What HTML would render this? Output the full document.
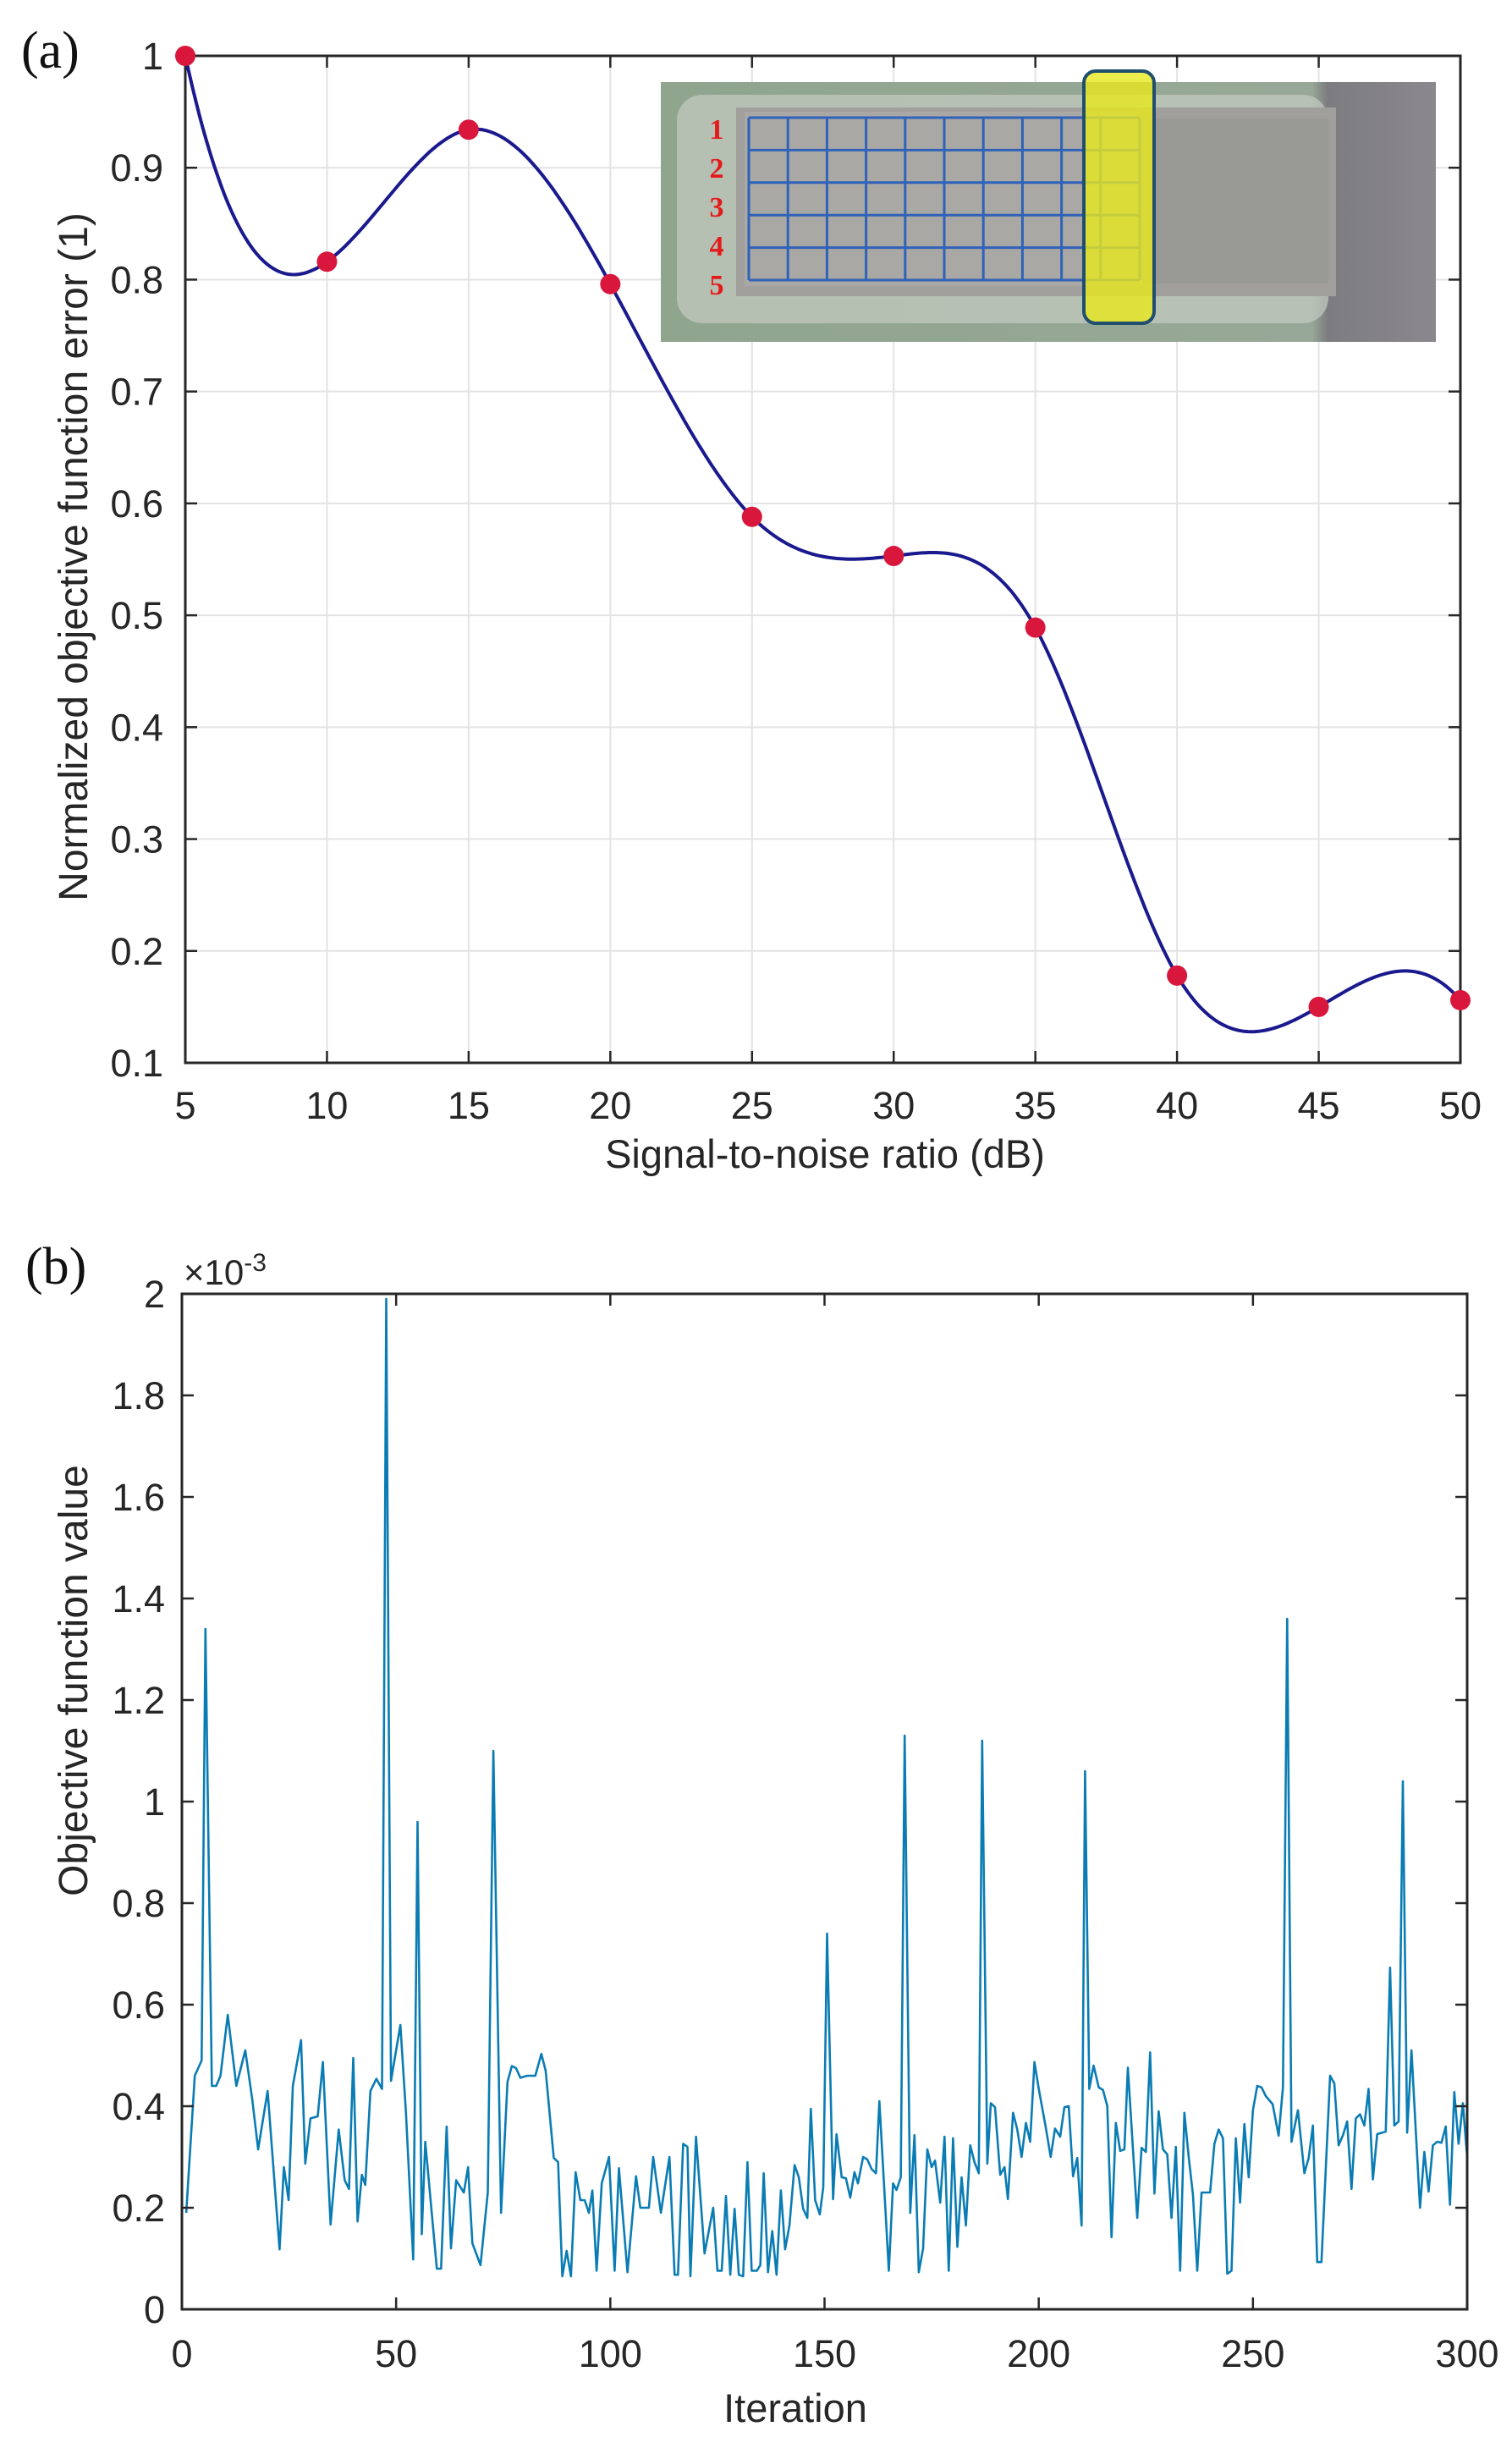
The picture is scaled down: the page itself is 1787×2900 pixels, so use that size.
<!DOCTYPE html>
<html><head><meta charset="utf-8"><style>
html,body{margin:0;padding:0;background:#fff;}
svg{display:block;}
text{font-family:"Liberation Sans",Arial,sans-serif;fill:#262626;}
</style></head>
<body>
<svg id="fig" width="1787" height="2900" viewBox="0 0 1787 2900" xmlns="http://www.w3.org/2000/svg">
<defs>
<linearGradient id="pcb" x1="0" y1="0" x2="1" y2="0">
<stop offset="0" stop-color="#8fa58e"/><stop offset="0.84" stop-color="#98a898"/><stop offset="0.86" stop-color="#7d7c80"/><stop offset="1" stop-color="#8a888c"/>
</linearGradient>
</defs>
<g id="chartA"></g>
<g id="chartB"></g>
</svg>
<script>
// ---------- Chart (a) data ----------
const snrValues = [5,10,15,20,25,30,35,40,45,50];
const errorValues = [1.0,0.816,0.934,0.796,0.588,0.553,0.489,0.178,0.150,0.156];
const aXTicks = [5,10,15,20,25,30,35,40,45,50];
const aYTicks = [0.1,0.2,0.3,0.4,0.5,0.6,0.7,0.8,0.9,1];
const aYTickLabels = ["0.1","0.2","0.3","0.4","0.5","0.6","0.7","0.8","0.9","1"];

// ---------- Chart (b) data ----------
const iterKnots = [1,3,4.6,5.5,7,8,9,10.7,12.7,14.8,16.4,17.8,20,22.8,23.8,24.9,25.9,27.8,28.8,30,31.7,32.9,34.7,36.6,38,39,40,41,42,42.8,44,45.4,46.7,47.7,48.8,51,52.3,54,55,56,56.8,59.5,60.5,61.8,62.8,64,65.8,66.8,67.8,69.7,71.4,72.7,74.5,76,77,78,79,80.6,82.5,83.9,84.9,86.8,87.8,88.8,89.8,90.8,91.9,93,94,95,95.8,96.8,98,99.7,101,102,104,106,107,109,110,111.8,113.8,115,115.8,117,118,118.7,120,122,124,125,126,127,128,129,130,131,132,133,134.2,135,135.8,136.8,137.8,138.8,139.8,140.8,141.8,143,144,145,146,146.8,147.8,148.9,149.7,150.6,152,152.8,154,155,156,157,157.8,159,160,161,162,162.8,165,166,166.8,167.8,168.7,170,171,172,173,174,175,175.8,177,178,179,180,181,182,183,184,185,186,186.8,188,188.8,189.8,191,192,192.8,194,195,196,197,198,199,200,201.6,202.8,203.8,205,206,207,208,209,210,210.8,211.8,212.8,214,215,216,217,218,219,220,220.8,223,224,225,226,227,228,229,230,231,232,233,234,235,236,237,238,240,241,242,243,244,245,246,247,248,249,250,251,252,253,254.6,256,257,258,259,260.5,262,263,264,265,266,268,269,270,271,272,273,274,275,276,277,278,279,281,282,283,284,285,286,287,288,289,290,291,292,293,294,295,296,297,298,299,300];
const objValues = [0.19,0.46,0.49,1.34,0.44,0.44,0.46,0.58,0.44,0.51,0.415,0.315,0.43,0.118,0.28,0.215,0.44,0.53,0.287,0.376,0.38,0.487,0.167,0.354,0.254,0.237,0.495,0.173,0.265,0.245,0.43,0.454,0.434,1.99,0.45,0.56,0.387,0.098,0.96,0.148,0.33,0.08,0.08,0.36,0.12,0.254,0.23,0.28,0.13,0.087,0.23,1.10,0.19,0.448,0.479,0.475,0.456,0.46,0.46,0.503,0.47,0.298,0.29,0.065,0.115,0.065,0.27,0.215,0.215,0.19,0.234,0.076,0.248,0.3,0.076,0.278,0.073,0.262,0.2,0.2,0.3,0.19,0.3,0.068,0.068,0.326,0.32,0.065,0.34,0.11,0.2,0.076,0.076,0.223,0.068,0.198,0.068,0.065,0.29,0.076,0.076,0.087,0.268,0.073,0.154,0.068,0.234,0.118,0.165,0.284,0.26,0.198,0.18,0.395,0.215,0.187,0.24,0.74,0.217,0.345,0.26,0.258,0.22,0.27,0.248,0.3,0.295,0.276,0.268,0.41,0.076,0.248,0.235,0.26,1.13,0.19,0.343,0.073,0.12,0.315,0.28,0.293,0.21,0.34,0.076,0.337,0.123,0.26,0.165,0.323,0.29,0.268,1.12,0.287,0.406,0.398,0.265,0.28,0.217,0.387,0.354,0.3,0.367,0.33,0.487,0.434,0.36,0.3,0.356,0.34,0.398,0.4,0.262,0.298,0.165,1.06,0.434,0.48,0.437,0.432,0.4,0.142,0.367,0.312,0.315,0.476,0.18,0.318,0.31,0.506,0.228,0.39,0.315,0.305,0.18,0.32,0.076,0.387,0.3,0.226,0.076,0.23,0.23,0.326,0.354,0.337,0.07,0.076,0.337,0.21,0.365,0.26,0.392,0.44,0.437,0.42,0.404,0.342,0.437,1.36,0.33,0.392,0.268,0.298,0.362,0.093,0.093,0.46,0.445,0.323,0.343,0.37,0.237,0.376,0.384,0.362,0.434,0.256,0.345,0.35,0.673,0.362,0.37,1.04,0.348,0.51,0.354,0.2,0.31,0.232,0.323,0.33,0.328,0.36,0.206,0.428,0.326,0.406,0.3];
const bXTicks = [0,50,100,150,200,250,300];
const bYTicks = [0,0.2,0.4,0.6,0.8,1,1.2,1.4,1.6,1.8,2];
const bYTickLabels = ["0","0.2","0.4","0.6","0.8","1","1.2","1.4","1.6","1.8","2"];

const NS = "http://www.w3.org/2000/svg";
function mk(parent, tag, attrs, txt){
  const e = document.createElementNS(NS, tag);
  for (const k in attrs) e.setAttribute(k, attrs[k]);
  if (txt !== undefined) e.textContent = txt;
  parent.appendChild(e);
  return e;
}

// not-a-knot cubic spline second derivatives
function splineM(xs, ys){
  const n = xs.length, h=[];
  for(let i=0;i<n-1;i++) h.push(xs[i+1]-xs[i]);
  const A = [], rhs = [];
  for(let i=0;i<n;i++){ A.push(new Array(n).fill(0)); rhs.push(0); }
  // not-a-knot start
  A[0][0] = h[1]; A[0][1] = -(h[0]+h[1]); A[0][2] = h[0];
  for(let i=1;i<n-1;i++){
    A[i][i-1]=h[i-1]; A[i][i]=2*(h[i-1]+h[i]); A[i][i+1]=h[i];
    rhs[i]=6*((ys[i+1]-ys[i])/h[i]-(ys[i]-ys[i-1])/h[i-1]);
  }
  A[n-1][n-3]=h[n-2]; A[n-1][n-2]=-(h[n-3]+h[n-2]); A[n-1][n-1]=h[n-3];
  // gaussian elimination with pivoting
  for(let c=0;c<n;c++){
    let p=c; for(let r=c+1;r<n;r++) if(Math.abs(A[r][c])>Math.abs(A[p][c])) p=r;
    [A[c],A[p]]=[A[p],A[c]]; [rhs[c],rhs[p]]=[rhs[p],rhs[c]];
    for(let r=c+1;r<n;r++){
      const f=A[r][c]/A[c][c];
      for(let k=c;k<n;k++) A[r][k]-=f*A[c][k];
      rhs[r]-=f*rhs[c];
    }
  }
  const M=new Array(n).fill(0);
  for(let r=n-1;r>=0;r--){
    let s=rhs[r]; for(let k=r+1;k<n;k++) s-=A[r][k]*M[k];
    M[r]=s/A[r][r];
  }
  return {M,h};
}

// ---------- Chart A ----------
(function(){
  const g = document.getElementById('chartA');
  const L=219, R=1726, T=66, B=1256;
  const xS = v => L + (v-5)/45*(R-L);
  const yS = v => B - (v-0.1)/0.9*(B-T);

  aXTicks.forEach(v=>{
    const l = mk(g,'line',{x1:xS(v),x2:xS(v),y1:T,y2:B,stroke:'#e3e3e3','stroke-width':2});
    
    
  });
  aYTicks.forEach(v=>{
    const l = mk(g,'line',{x1:L,x2:R,y1:yS(v),y2:yS(v),stroke:'#e3e3e3','stroke-width':2});
    
    
  });

  // inset photo
  const ins = mk(g,'g',{});
  
  
  mk(ins,'rect',{x:781,y:97,width:916,height:307,fill:'url(#pcb)'});
  mk(ins,'rect',{x:800,y:112,width:770,height:270,rx:30,fill:'#c4ccc2',opacity:0.7});
  mk(ins,'rect',{x:870,y:127,width:709,height:223,fill:'#a09f9b'});
  mk(ins,'rect',{x:880,y:132,width:470,height:206,fill:'#a9a8a4'});
  mk(ins,'rect',{x:1355,y:140,width:215,height:195,fill:'#999995'});
  const gl = 885, gr = 1347, gt = 139, gb = 331;
  for(let i=0;i<=10;i++){
    const x = gl + i*(gr-gl)/10;
    mk(ins,'line',{x1:x,x2:x,y1:gt,y2:gb,stroke:'#2f62b8','stroke-width':3});
  }
  for(let j=0;j<=5;j++){
    const y = gt + j*(gb-gt)/5;
    mk(ins,'line',{x1:gl,x2:gr,y1:y,y2:y,stroke:'#2f62b8','stroke-width':3});
  }
  const hl = mk(ins,'rect',{x:1281,y:84,width:83,height:298,rx:14,fill:'#e8e81e','fill-opacity':0.8,stroke:'#1f4e6e','stroke-width':4});
  
  
  ['1','2','3','4','5'].forEach((s,i)=>{
    const t = mk(ins,'text',{x:847,y:164+i*46,'text-anchor':'middle','font-size':34,'font-weight':'bold',style:'font-family:"Liberation Serif",serif;fill:#e41a1a'},s);
    
    
  });

  mk(g,'rect',{x:L,y:T,width:R-L,height:B-T,fill:'none',stroke:'#262626','stroke-width':3});
  aXTicks.forEach(v=>{
    mk(g,'line',{x1:xS(v),x2:xS(v),y1:B,y2:B-14,stroke:'#262626','stroke-width':2.5});
    mk(g,'line',{x1:xS(v),x2:xS(v),y1:T,y2:T+14,stroke:'#262626','stroke-width':2.5});
    const t = mk(g,'text',{x:xS(v),y:1322,'text-anchor':'middle','font-size':45},String(v));
    
    
  });
  aYTicks.forEach((v,i)=>{
    mk(g,'line',{x1:L,x2:L+14,y1:yS(v),y2:yS(v),stroke:'#262626','stroke-width':2.5});
    mk(g,'line',{x1:R,x2:R-14,y1:yS(v),y2:yS(v),stroke:'#262626','stroke-width':2.5});
    const t = mk(g,'text',{x:193,y:yS(v)+16,'text-anchor':'end','font-size':45},aYTickLabels[i]);
    
    
  });

  const xs = snrValues, ys = errorValues, n = xs.length;
  const {M,h} = splineM(xs, ys);
  let dstr='';
  for(let j=0;j<n-1;j++){
    const hj=h[j];
    for(let k=0;k<=40;k++){
      const x = xs[j]+hj*k/40;
      const a=xs[j+1]-x, b=x-xs[j];
      const v = M[j]*a*a*a/(6*hj)+M[j+1]*b*b*b/(6*hj)+(ys[j]/hj-M[j]*hj/6)*a+(ys[j+1]/hj-M[j+1]*hj/6)*b;
      dstr += (dstr?'L':'M')+xS(x).toFixed(1)+','+yS(v).toFixed(1);
    }
  }
  const curve = mk(g,'path',{d:dstr,fill:'none',stroke:'#1a1a8e','stroke-width':4});
  
  
  snrValues.forEach((v,i)=>{
    const c2 = mk(g,'circle',{cx:xS(v),cy:yS(errorValues[i]),r:12,fill:'#d9173c'});
    
    
  });

  const xl = mk(g,'text',{x:975,y:1380,'text-anchor':'middle','font-size':47},'Signal-to-noise ratio (dB)');
  
  
  const yl = mk(g,'text',{x:0,y:0,'text-anchor':'middle','font-size':48,transform:'translate(103,658) rotate(-90)'},'Normalized objective function error (1)');
  
  
  const pl = mk(g,'text',{x:25,y:80,'font-size':62,style:'font-family:"Liberation Serif",serif;fill:#111'},'(a)');
  
  
})();

// ---------- Chart B ----------
(function(){
  const g = document.getElementById('chartB');
  const L=215, R=1734, T=1529, B=2729;
  const xS = v => L + v/300*(R-L);
  const yS = v => B - v/2*(B-T);

  let dstr='';
  iterKnots.forEach((it,i)=>{
    dstr += (i?'L':'M')+xS(it).toFixed(1)+','+yS(objValues[i]).toFixed(1);
  });
  const line = mk(g,'path',{d:dstr,fill:'none',stroke:'#0a7cb4','stroke-width':2.6,'stroke-linejoin':'round'});
  
  

  mk(g,'rect',{x:L,y:T,width:R-L,height:B-T,fill:'none',stroke:'#262626','stroke-width':3});
  bXTicks.forEach(v=>{
    mk(g,'line',{x1:xS(v),x2:xS(v),y1:B,y2:B-14,stroke:'#262626','stroke-width':2.5});
    mk(g,'line',{x1:xS(v),x2:xS(v),y1:T,y2:T+14,stroke:'#262626','stroke-width':2.5});
    const t = mk(g,'text',{x:xS(v),y:2797,'text-anchor':'middle','font-size':45},String(v));
    
    
  });
  bYTicks.forEach((v,i)=>{
    mk(g,'line',{x1:L,x2:L+14,y1:yS(v),y2:yS(v),stroke:'#262626','stroke-width':2.5});
    mk(g,'line',{x1:R,x2:R-14,y1:yS(v),y2:yS(v),stroke:'#262626','stroke-width':2.5});
    const t = mk(g,'text',{x:195,y:yS(v)+16,'text-anchor':'end','font-size':45},bYTickLabels[i]);
    
    
  });
  const ex = mk(g,'text',{x:217,y:1518,'font-size':42},'');
  
  
  mk(ex,'tspan',{},'\u00d710');
  mk(ex,'tspan',{dy:-16,'font-size':30},'-3');

  const xl = mk(g,'text',{x:940,y:2862,'text-anchor':'middle','font-size':47},'Iteration');
  
  
  const yl = mk(g,'text',{x:0,y:0,'text-anchor':'middle','font-size':48,transform:'translate(103,1986) rotate(-90)'},'Objective function value');
  
  
  const pl = mk(g,'text',{x:30,y:1517,'font-size':62,style:'font-family:"Liberation Serif",serif;fill:#111'},'(b)');
  
  
})();
</script>
</body></html>
